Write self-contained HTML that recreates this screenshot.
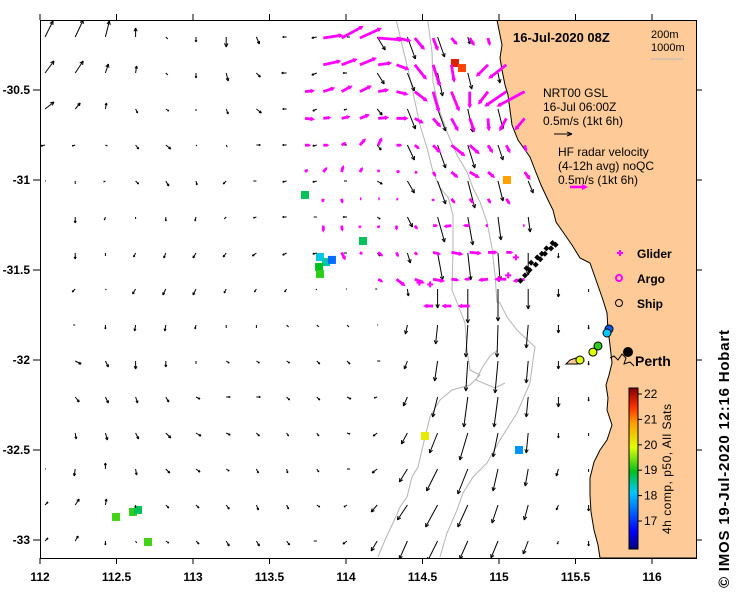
<!DOCTYPE html>
<html><head><meta charset="utf-8"><title>Currents map</title>
<style>
body{margin:0;background:#fff;}
svg{display:block;font-family:"Liberation Sans",sans-serif;}
.b{font-weight:bold;}
</style></head>
<body>
<svg id="map" width="739" height="592" viewBox="0 0 739 592" xmlns="http://www.w3.org/2000/svg">
<defs><clipPath id="clip"><rect x="40" y="20" width="656" height="538"/></clipPath>
<linearGradient id="jet" x1="0" y1="1" x2="0" y2="0">
<stop offset="0" stop-color="#00007f"/><stop offset="0.11" stop-color="#0000ff"/><stop offset="0.35" stop-color="#00c8ff"/><stop offset="0.48" stop-color="#00c020"/><stop offset="0.63" stop-color="#e0ff00"/><stop offset="0.78" stop-color="#ffa000"/><stop offset="0.88" stop-color="#ff3000"/><stop offset="1" stop-color="#800000"/></linearGradient></defs>
<rect x="0" y="0" width="739" height="592" fill="#fff"/>
<g clip-path="url(#clip)">
<polygon fill="#fecb98" stroke="#000" stroke-width="1" points="497,20 499,30 502,45 500,58 502,70 505,85 508,95 510,110 512,125 518,140 525,150 530,157 535,170 541,185 548,200 553,210 556,222 563,232 572,245 580,258 590,263 596,280 603,300 607,313 608,330 610,345 612,363 609,375 606,385 608,398 607,410 612,425 607,440 600,450 594,462 590,478 590,495 591,512 594,530 598,545 600,558 700,558 700,15 497,15"/>
<polygon fill="#fecb98" stroke="#000" stroke-width="1" points="566,364 570,360 576,358 582,357 584,361 578,364 572,364"/>
<polyline fill="none" stroke="#000" stroke-width="1" points="610,358 614,356 618,360 622,354 626,358 624,364 630,362 634,366"/>
<polyline fill="none" stroke="#b4b4b4" stroke-width="1" points="395,15 410,78 415,102 420,125 427,148 433,172 440,188 448,197 453,215 453,248 452,290 458,305 465,323 467,350 470,370 480,375 470,385 452,390 440,400 430,417 425,437 418,467 412,477 407,497 400,507 393,523 385,540 378,557"/>
<polyline fill="none" stroke="#b4b4b4" stroke-width="1" points="427,15 432,52 433,82 440,112 447,132 457,155 467,172 473,188 480,202 487,222 492,248 495,275 497,302 500,303 507,317 517,330 535,347 533,360 530,383 517,413 500,440 487,463 473,477 463,493 457,510 447,533 440,557"/>
<polyline fill="none" stroke="#b4b4b4" stroke-width="1" points="498,350 490,356 482,368 476,380 495,388 505,383"/>
<g id="sst"></g>
<g id="blackArrows"></g>
<g id="hfArrows"></g>
<g id="glider"></g>
<g id="ships"></g>
</g>
<rect x="40.5" y="20.5" width="656" height="538" fill="none" stroke="#000" stroke-width="1"/>
<g id="axes"></g>
<text class="b" x="513" y="42" font-size="13">16-Jul-2020 08Z</text>
<text x="651" y="38" font-size="11">200m</text>
<text x="651" y="51" font-size="11">1000m</text>
<line x1="651" y1="59" x2="683" y2="59" stroke="#b4b4b4"/>
<g font-size="12">
<text x="543" y="97">NRT00 GSL</text><text x="543" y="111">16-Jul 06:00Z</text><text x="543" y="125">0.5m/s (1kt 6h)</text>
<line x1="554" y1="134" x2="572" y2="134" stroke="#000"/><path d="M572,134 l-5,-2 M572,134 l-5,2" stroke="#000"/>
</g>
<g font-size="12">
<text x="558" y="156">HF radar velocity</text><text x="558" y="170">(4-12h avg) noQC</text><text x="558" y="184">0.5m/s (1kt 6h)</text>
<line x1="570" y1="187" x2="583" y2="187" stroke="#ff00ff" stroke-width="2.5"/><path d="M588,187 l-6,-3 l0,6 z" fill="#ff00ff"/>
</g>
<g>
<path d="M617,253 h6 M620,250 v6" stroke="#ff00ff" stroke-width="2"/>
<text class="b" x="637" y="258" font-size="12">Glider</text>
</g>
<g>
<circle cx="619" cy="278" r="3" fill="none" stroke="#ff00ff" stroke-width="2"/>
<text class="b" x="637" y="283" font-size="12">Argo</text>
</g>
<g>
<circle cx="619" cy="303" r="3.5" fill="none" stroke="#000" stroke-width="1"/>
<text class="b" x="637" y="308" font-size="12">Ship</text>
</g>
<circle cx="628" cy="352" r="5" fill="#000"/>
<text class="b" x="635" y="366" font-size="14">Perth</text>
<rect x="629" y="388" width="9" height="161" fill="url(#jet)" stroke="#000"/>
<g id="cbar" font-size="12"></g>
<text font-size="12" textLength="130" transform="translate(671,534) rotate(-90)">4h comp, p50, All Sats</text>
<text class="b" font-size="15" textLength="258" transform="translate(729,588) rotate(-90)">©  IMOS 19-Jul-2020 12:16 Hobart</text>
</svg>
<script>
// model current grid (cm/s), rows north->south, cols west->east
const bu = [
[24,24,12,0,6,0,0,9,-12,-15,9,24,24,21,6],
[27,24,9,3,6,0,6,12,-15,-15,-12,21,21,15,12,6],
[27,15,3,6,9,0,6,15,-12,-12,-9,15,24,24,15,15],
[-12,-9,6,9,15,3,3,12,-12,-12,-9,12,21,24,21,15],
[3,0,-6,9,9,3,-9,-9,-12,-12,-9,15,21,24,21,15,15],
[null,0,-3,0,0,-3,-6,-9,-12,-9,-12,9,15,21,15,9,6],
[null,0,0,-6,-6,-9,-9,-12,-12,-12,-9,9,9,15,9,6,0,0],
[null,-9,3,-9,-9,-9,-6,-6,-6,-3,-3,-6,3,0,0,0,0,0,0],
[null,-6,0,-3,-3,-3,0,0,6,6,6,3,-6,-6,-6,-3,-6,0,0],
[null,18,9,0,0,0,9,9,9,9,9,9,-9,-9,-6,-9,-6,0,0],
[null,12,9,6,9,12,12,12,9,9,12,-9,-12,-15,-12,-12,-6,0,0],
[null,3,6,9,15,15,12,9,6,6,9,-12,-18,-24,-24,-15,-6,0,0],
[3,-3,0,3,12,12,9,6,3,6,9,-15,-24,-33,-30,-15,-9,-6,0],
[9,12,3,0,9,9,9,6,6,9,-9,-18,-30,-36,-30,-18,-12,-6,0],
[9,9,0,3,9,9,9,9,9,-9,-12,-18,-24,-30,-24,-21,-15,-3,0]
];
const bv = [
[48,51,48,27,-6,-15,-30,-21,0,-3,0,-39,-66,-60,-21],
[36,36,27,21,-6,-15,-24,-12,0,-6,0,-33,-54,-69,-48,-30],
[21,18,18,-12,-6,-6,-15,-12,0,-6,-3,-18,-60,-66,-69,-60],
[-3,-3,-3,-12,-12,-3,-6,0,0,-3,0,-15,-45,-69,-69,-45],
[0,-9,-3,-9,-15,-12,-9,0,-3,-3,0,-9,-36,-69,-81,-60,-36],
[null,-18,-9,-6,-12,-12,-6,-3,0,0,0,-6,-30,-75,-84,-69,-45],
[null,-18,-9,-12,-15,-15,-12,-9,-6,-3,0,-9,-30,-81,-81,-81,-66,-15],
[null,-9,-3,-15,-18,-18,-12,-9,-9,-3,0,0,-21,-57,-102,-96,-60,-24,-9],
[null,0,-12,-18,-18,-12,-9,-9,-6,-6,-6,0,-27,-57,-96,-96,-69,-24,-12],
[null,-9,-18,-24,-18,-9,-6,-6,-6,-9,-9,0,-24,-60,-90,-96,-66,-24,-12],
[null,-15,-18,-18,-15,-6,0,0,-9,-9,-6,-3,-27,-60,-90,-90,-60,-30,-12],
[null,-18,-21,-18,-15,-9,-6,-9,-9,-9,-3,-9,-33,-60,-81,-72,-60,-15,-9],
[0,-21,18,-18,-12,-9,-6,-12,-12,-9,0,-12,-39,-66,-75,-66,-51,-21,-9],
[9,18,18,-9,-9,-9,-12,-15,-12,-6,-6,-21,-45,-66,-66,-54,-45,-15,-18],
[9,15,-12,-6,-6,-9,-15,-15,-12,0,-9,-30,-54,-60,-54,-51,-39,-9,-15]
];
// HF radar grid (cm/s)
const hu = [
[null,60,66,66,75,45,30,15,18,15,6,null,null],
[null,54,48,51,42,39,36,21,9,null,-36,-54,null],
[30,36,33,36,33,36,39,18,24,0,-30,-66,-84],
[30,24,27,30,33,36,27,24,21,15,3,-21,-30],
[18,18,15,18,12,18,15,24,42,30,15,12,6],
[9,12,6,9,3,12,9,9,21,30,21,null,18],
[null,-3,3,6,6,6,null,0,12,12,9,12,null],
[null,0,3,0,3,0,9,15,-24,-21,-9,null,-6],
[null,null,12,9,15,6,9,24,36,36,30,21,null],
[null,null,null,null,15,27,30,36,24,-18,-30,-36,-36],
[null,null,null,null,null,null,null,-30,-30,-36,null,null,null]
];
const hv = [
[null,9,36,30,-6,-9,-36,-39,-21,-24,-24,null,null],
[null,12,18,21,6,-15,-45,-66,-54,null,-36,-42,null],
[3,12,18,18,6,-9,-30,-63,-60,-51,-39,-45,-45],
[-3,3,6,12,3,0,-15,-27,-39,-42,-39,-39,-36],
[0,0,9,21,24,0,-12,-24,-33,-27,-24,-24,-21],
[9,15,21,15,9,3,-3,-15,-18,-18,-18,null,-24],
[null,-12,-15,0,0,-3,null,-9,-15,-15,-15,-18,null],
[null,-21,-18,-9,-9,-15,-12,0,-3,0,0,null,0],
[null,null,-24,-6,-12,-15,-9,-6,-6,-3,0,0,null],
[null,null,null,null,-9,-21,-12,-6,-3,0,-3,0,-6],
[null,null,null,null,null,null,null,0,0,0,null,null,null]
];
// SST patches
const sstLon = [114.712,114.758,115.052,113.732,113.83,113.869,113.824,113.83,113.908,114.111,114.516,115.131,112.497,112.608,112.641,112.706];
const sstLat = [-30.35,-30.378,-31.0,-31.083,-31.428,-31.456,-31.483,-31.522,-31.444,-31.339,-32.422,-32.5,-32.872,-32.844,-32.833,-33.011];
const sstTemp = [21.8,21.5,21.0,18.8,18.3,18.5,19.0,19.2,17.5,18.8,20.2,17.8,19.3,19.2,18.8,19.3];
// glider
const gLon = [115.14,115.17,115.20,115.24,115.27,115.30,115.34,115.37,115.18,115.21,115.25,115.28,115.31,115.35];
const gLat = [-31.56,-31.53,-31.50,-31.47,-31.44,-31.41,-31.38,-31.36,-31.49,-31.46,-31.43,-31.41,-31.38,-31.35];
const gmLon = [114.48,114.55,115.0,115.06,115.11];
const gmLat = [-31.57,-31.58,-31.55,-31.53,-31.43];
// ships
const sLon = [115.719,115.706,115.647,115.614,115.529];
const sLat = [-31.828,-31.85,-31.922,-31.956,-32.0];
const sTemp = [17.4,18.2,19.2,20.0,20.0];
const xTicks = [112,112.5,113,113.5,114,114.5,115,115.5,116];
const yTicks = [-30.5,-31,-31.5,-32,-32.5,-33];
const cbTicks = [17,18,19,20,21,22];

const NS="http://www.w3.org/2000/svg";
const X = lon => 40 + (lon-112)*153;
const Y = lat => 90 + (-30.5-lat)*180;
const K = 1/3; // px per cm/s
function mk(tag, attrs, parent){const e=document.createElementNS(NS,tag);for(const k in attrs)e.setAttribute(k,attrs[k]);parent.appendChild(e);return e;}
const cmT=[16,16.7,18.2,19.0,20.0,21.0,21.6,22.3];
const cmC=[[0,0,127],[0,0,255],[0,200,255],[0,192,32],[224,255,0],[255,160,0],[255,48,0],[128,0,0]];
function jet(T){
 if(T<=cmT[0])return `rgb(${cmC[0]})`;
 for(let k=1;k<cmT.length;k++){if(T<=cmT[k]){const f=(T-cmT[k-1])/(cmT[k]-cmT[k-1]);
  const c=cmC[k-1].map((v,i)=>Math.round(v+(cmC[k][i]-v)*f));return `rgb(${c})`;}}
 return `rgb(${cmC[cmC.length-1]})`;}

const ba=document.getElementById('blackArrows');
for(let j=0;j<bu.length;j++)for(let i=0;i<bu[j].length;i++){
 const u=bu[j][i],v=bv[j][i]; if(u===null||v===null)continue;
 const x0=45+30.2*i,y0=37+36*j,dx=u*K,dy=-v*K,L=Math.hypot(dx,dy);
 const g=mk('g',{},ba);
 
 
 mk('line',{x1:x0,y1:y0,x2:x0+dx,y2:y0+dy,stroke:'#000','stroke-width':1},g);
 if(L>3){const a=Math.atan2(dy,dx),h=Math.min(4,L*0.4);
  mk('path',{d:`M${x0+dx},${y0+dy} l${-h*Math.cos(a-0.45)},${-h*Math.sin(a-0.45)} M${x0+dx},${y0+dy} l${-h*Math.cos(a+0.45)},${-h*Math.sin(a+0.45)}`,stroke:'#000',fill:'none'},g);}
}
const ha=document.getElementById('hfArrows');
for(let j=0;j<hu.length;j++)for(let i=0;i<hu[j].length;i++){
 const u=hu[j][i],v=hv[j][i]; if(u===null||v===null)continue;
 const x0=305+18.3*i,y0=38+26.8*j,dx=u*K,dy=-v*K,L=Math.hypot(dx,dy);
 const g=mk('g',{},ha);
 
 
 const a=Math.atan2(dy,dx),h=Math.min(5,L*0.5);
 mk('line',{x1:x0,y1:y0,x2:x0+dx-h*0.6*Math.cos(a),y2:y0+dy-h*0.6*Math.sin(a),stroke:'#ff00ff','stroke-width':2.8},g);
 const ex=x0+dx,ey=y0+dy;
 mk('path',{d:`M${ex},${ey} L${ex-h*Math.cos(a-0.5)},${ey-h*Math.sin(a-0.5)} L${ex-h*Math.cos(a+0.5)},${ey-h*Math.sin(a+0.5)} Z`,fill:'#ff00ff'},g);
}
const sg=document.getElementById('sst');
for(let k=0;k<sstLon.length;k++){
 const r=mk('rect',{x:X(sstLon[k])-4,y:Y(sstLat[k])-4,width:8,height:8,fill:jet(sstTemp[k])},sg);
 
 
}
const gg=document.getElementById('glider');
for(let k=0;k<gLon.length;k++){
 const x=X(gLon[k]),y=Y(gLat[k]);
 const p=mk('path',{d:`M${x-3},${y} L${x},${y-3} L${x+3},${y} L${x},${y+3} Z`,fill:'#000'},gg);
 
 
}
for(let k=0;k<gmLon.length;k++){
 const x=X(gmLon[k]),y=Y(gmLat[k]);
 const p=mk('path',{d:`M${x-3},${y} h6 M${x},${y-3} v6`,stroke:'#ff00ff','stroke-width':2},gg);
 
 
}
const shg=document.getElementById('ships');
for(let k=0;k<sLon.length;k++){
 const c=mk('circle',{cx:X(sLon[k]),cy:Y(sLat[k]),r:4,fill:jet(sTemp[k]),stroke:'#000','stroke-width':1},shg);
 
 
}
const ax=document.getElementById('axes');
xTicks.forEach(t=>{const x=X(t);
 mk('line',{x1:x,y1:558,x2:x,y2:564,stroke:'#000'},ax);
 mk('line',{x1:x,y1:20,x2:x,y2:14,stroke:'#000'},ax);
 const tx=mk('text',{x:x,y:581,'text-anchor':'middle','font-size':12,'font-weight':'bold'},ax);
 
 
 tx.textContent=String(t);});
yTicks.forEach(t=>{const y=Y(t);
 mk('line',{x1:33,y1:y,x2:40,y2:y,stroke:'#000'},ax);
 mk('line',{x1:696,y1:y,x2:702,y2:y,stroke:'#000'},ax);
 const tx=mk('text',{x:30,y:y+4,'text-anchor':'end','font-size':12,'font-weight':'bold'},ax);
 
 
 tx.textContent=String(t);});
const cb=document.getElementById('cbar');
cbTicks.forEach(t=>{const y=521-(t-17)*25.4;
 mk('line',{x1:638,y1:y,x2:642,y2:y,stroke:'#000'},cb);
 const tx=mk('text',{x:644,y:y+4},cb);
 
 
 tx.textContent=String(t);});
</script>
</body></html>
